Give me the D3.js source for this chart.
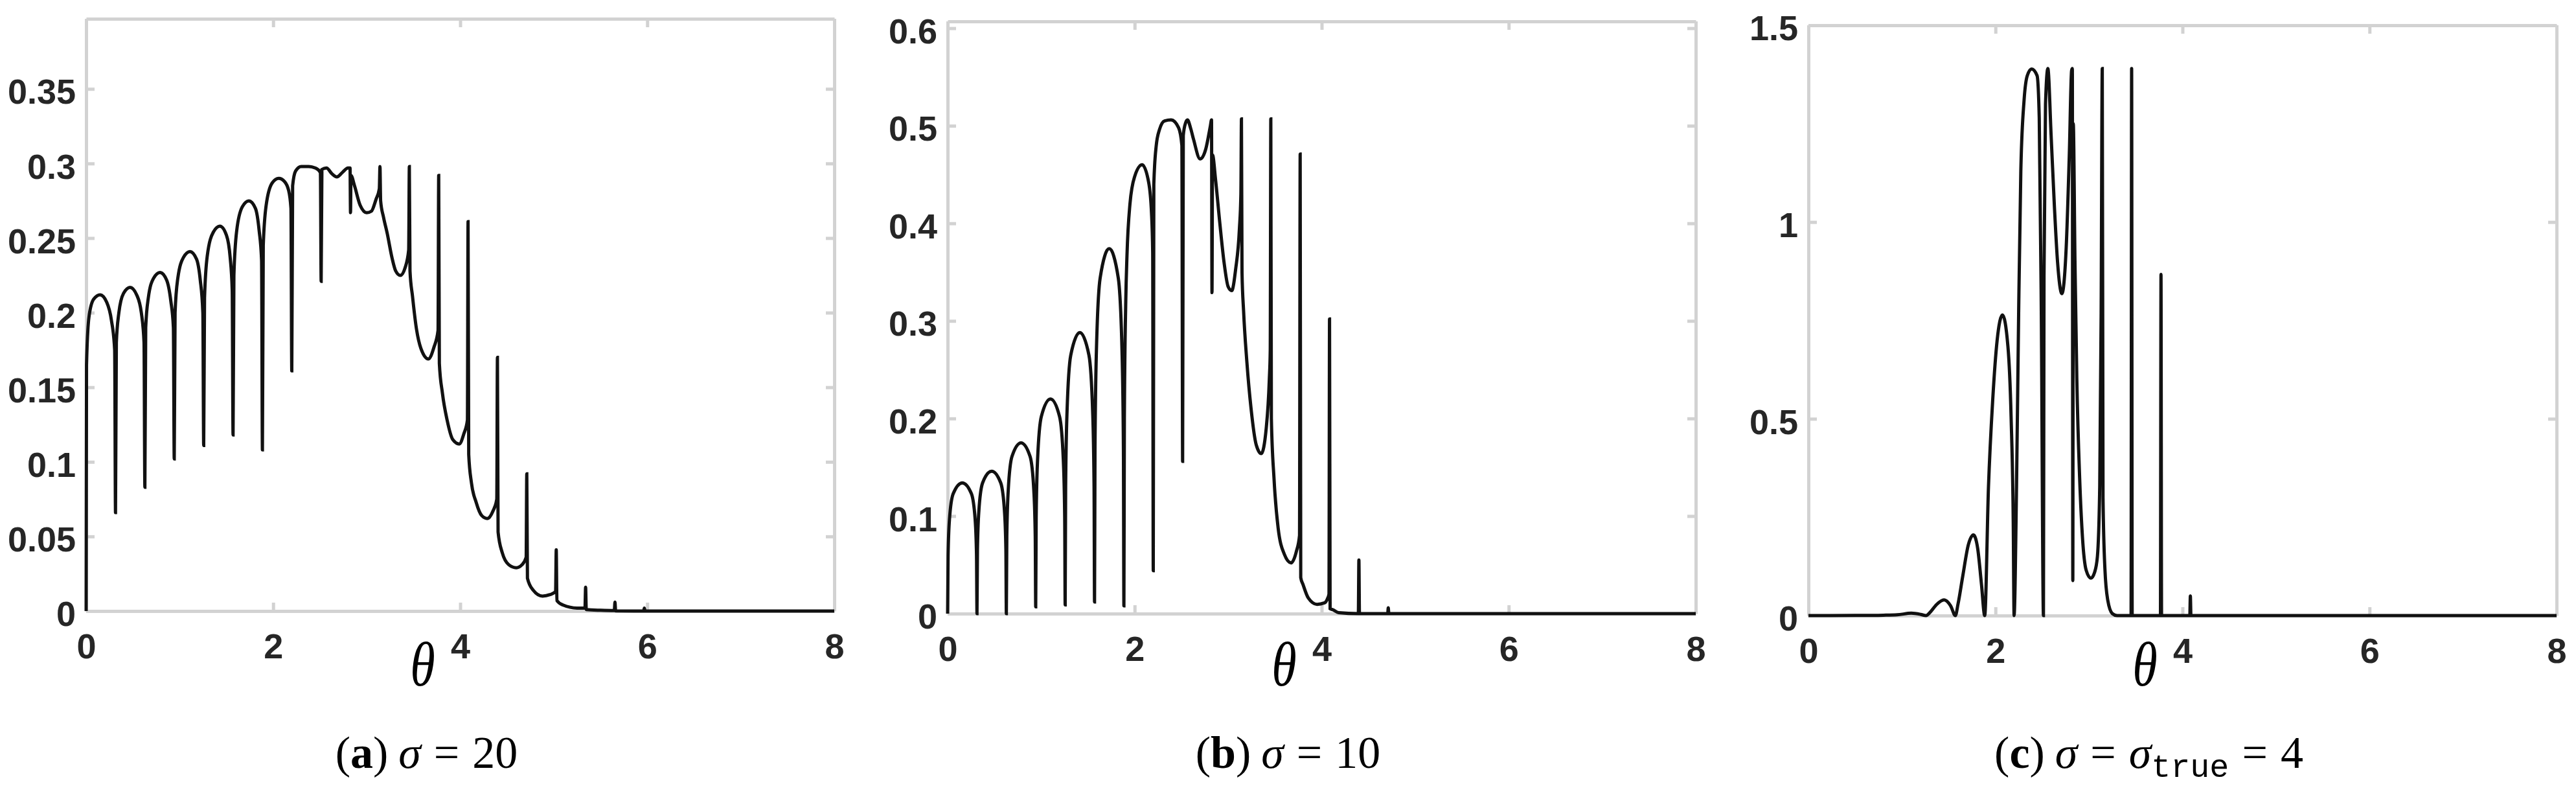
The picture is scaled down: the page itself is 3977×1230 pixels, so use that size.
<!DOCTYPE html>
<html>
<head>
<meta charset="utf-8">
<title>Posterior over theta for three sigma values</title>
<script src="https://cdn.jsdelivr.net/npm/d3@7"></script>
<style>
  body { margin: 0; background: #fff; }
  .tick text { font-family: "Liberation Sans", Arial, sans-serif; font-weight: bold; font-size: 54px; fill: #262626; }
  .cap { font-family: "Liberation Serif", "Times New Roman", serif; fill: #000; }
</style>
</head>
<body>
<svg id="fig" width="3977" height="1230"></svg>
<script>
// x ticks shared by the three panels
var xTicks = [0, 2, 4, 6, 8];

// panel (a) sigma = 20
var yTicksA = [0, 0.05, 0.1, 0.15, 0.2, 0.25, 0.3, 0.35];
var yLabelsA = ['0', '0.05', '0.1', '0.15', '0.2', '0.25', '0.3', '0.35'];
var thetaA = [0, 0.004, 0.03, 0.08, 0.15, 0.22, 0.27, 0.305, 0.314,
  0.323, 0.35, 0.40, 0.47, 0.54, 0.59, 0.619, 0.628,
  0.637, 0.665, 0.72, 0.79, 0.86, 0.905, 0.933, 0.942,
  0.951, 0.98, 1.04, 1.11, 1.18, 1.22, 1.248, 1.257,
  1.266, 1.295, 1.36, 1.43, 1.5, 1.54, 1.562, 1.571,
  1.58, 1.61, 1.67, 1.74, 1.81, 1.85, 1.876, 1.885,
  1.894, 1.925, 1.99, 2.06, 2.12, 2.165, 2.19, 2.199,
  2.208, 2.24, 2.30, 2.38, 2.45, 2.505, 2.513,
  2.521, 2.57, 2.63, 2.68, 2.74, 2.80, 2.822, 2.827,
  2.832, 2.87, 2.93, 3.0, 3.05, 3.10, 3.135, 3.142,
  3.149, 3.18, 3.22, 3.27, 3.31, 3.36, 3.41, 3.449, 3.456,
  3.463, 3.49, 3.53, 3.58, 3.66, 3.72, 3.763, 3.770,
  3.777, 3.81, 3.86, 3.92, 3.99, 4.04, 4.077, 4.084,
  4.091, 4.12, 4.17, 4.23, 4.29, 4.35, 4.391, 4.398,
  4.405, 4.45, 4.52, 4.60, 4.66, 4.705, 4.712,
  4.719, 4.78, 4.88, 4.96, 5.02, 5.027,
  5.034, 5.1, 5.25, 5.334, 5.341,
  5.348, 5.5, 5.648, 5.655, 5.662, 5.962, 5.969, 5.976, 8];
var postA = [0, 0.165, 0.197, 0.209, 0.212, 0.207, 0.195, 0.175, 0.066,
  0.18, 0.2, 0.213, 0.217, 0.212, 0.2, 0.18, 0.083,
  0.19, 0.21, 0.223, 0.227, 0.222, 0.208, 0.19, 0.102,
  0.20, 0.223, 0.237, 0.241, 0.236, 0.222, 0.2, 0.111,
  0.21, 0.238, 0.254, 0.258, 0.252, 0.237, 0.215, 0.118,
  0.225, 0.255, 0.271, 0.275, 0.27, 0.255, 0.235, 0.108,
  0.245, 0.272, 0.287, 0.290, 0.288, 0.282, 0.27, 0.161,
  0.285, 0.295, 0.298, 0.298, 0.297, 0.294, 0.221,
  0.296, 0.297, 0.293, 0.291, 0.294, 0.297, 0.297, 0.267,
  0.292, 0.285, 0.272, 0.267, 0.268, 0.276, 0.283, 0.298,
  0.275, 0.264, 0.253, 0.237, 0.228, 0.225, 0.23, 0.242, 0.298,
  0.228, 0.211, 0.19, 0.176, 0.169, 0.177, 0.188, 0.292,
  0.166, 0.146, 0.128, 0.115, 0.112, 0.119, 0.128, 0.261,
  0.105, 0.086, 0.073, 0.064, 0.062, 0.067, 0.075, 0.170,
  0.053, 0.039, 0.031, 0.029, 0.031, 0.036, 0.092,
  0.022, 0.014, 0.010, 0.011, 0.013, 0.041,
  0.007, 0.004, 0.002, 0.002, 0.016,
  0.001, 0.0005, 0.0003, 0.006, 0.0001, 0, 0.002, 0, 0];

// panel (b) sigma = 10
var yTicksB = [0, 0.1, 0.2, 0.3, 0.4, 0.5, 0.6];
var yLabelsB = ['0', '0.1', '0.2', '0.3', '0.4', '0.5', '0.6'];
var thetaB = [0, 0.005, 0.02, 0.06, 0.157, 0.254, 0.294, 0.309, 0.314,
  0.319, 0.334, 0.374, 0.471, 0.568, 0.608, 0.623, 0.628,
  0.633, 0.648, 0.688, 0.785, 0.882, 0.922, 0.937, 0.942,
  0.947, 0.962, 1.002, 1.1, 1.197, 1.237, 1.252, 1.257,
  1.262, 1.277, 1.317, 1.414, 1.511, 1.551, 1.566, 1.571,
  1.576, 1.591, 1.631, 1.728, 1.825, 1.865, 1.88, 1.885,
  1.89, 1.905, 1.918, 1.95, 2.0, 2.08, 2.15, 2.18, 2.193, 2.199,
  2.205, 2.23, 2.265, 2.32, 2.39, 2.47, 2.505, 2.513,
  2.52, 2.545, 2.565, 2.6, 2.63, 2.70, 2.76, 2.81, 2.822, 2.827,
  2.833, 2.865, 2.91, 2.956, 3.0, 3.038, 3.08, 3.12, 3.136, 3.142,
  3.148, 3.165, 3.2, 3.245, 3.3, 3.354, 3.407, 3.44, 3.45, 3.456,
  3.462, 3.49, 3.534, 3.6, 3.673, 3.73, 3.763, 3.770,
  3.776, 3.8, 3.857, 3.95, 4.03, 4.065, 4.078, 4.084,
  4.09, 4.12, 4.18, 4.392, 4.398, 4.404, 4.706, 4.712, 4.718, 8];
var postB = [0, 0.06, 0.097, 0.123, 0.134, 0.123, 0.097, 0.06, 0,
  0.066, 0.105, 0.134, 0.146, 0.134, 0.105, 0.066, 0,
  0.079, 0.126, 0.161, 0.175, 0.161, 0.126, 0.079, 0.007,
  0.099, 0.158, 0.202, 0.220, 0.202, 0.158, 0.099, 0.009,
  0.13, 0.207, 0.265, 0.288, 0.265, 0.207, 0.13, 0.012,
  0.168, 0.269, 0.344, 0.374, 0.344, 0.269, 0.168, 0.008,
  0.2, 0.32, 0.367, 0.42, 0.448, 0.460, 0.442, 0.411, 0.37, 0.044,
  0.44, 0.479, 0.496, 0.505, 0.506, 0.498, 0.48, 0.156,
  0.49, 0.503, 0.506, 0.497, 0.486, 0.466, 0.476, 0.5, 0.506, 0.329,
  0.47, 0.445, 0.401, 0.36, 0.335, 0.331, 0.353, 0.394, 0.43, 0.507,
  0.35, 0.31, 0.258, 0.21, 0.173, 0.164, 0.19, 0.24, 0.27, 0.507,
  0.2, 0.139, 0.088, 0.061, 0.052, 0.064, 0.08, 0.471,
  0.037, 0.03, 0.016, 0.0095, 0.011, 0.016, 0.02, 0.302,
  0.005, 0.004, 0.001, 0, 0.055, 0, 0, 0.006, 0, 0];

// panel (c) sigma = sigma_true = 4
var yTicksC = [0, 0.5, 1, 1.5];
var yLabelsC = ['0', '0.5', '1', '1.5'];
var thetaC = [0, 0.5, 0.8, 0.95, 1.1, 1.2, 1.257, 1.3, 1.37, 1.45, 1.52, 1.571,
  1.6, 1.65, 1.71, 1.764, 1.81, 1.85, 1.885,
  1.925, 1.971, 2.018, 2.075, 2.133, 2.167, 2.19, 2.199,
  2.225, 2.248, 2.271, 2.306, 2.34, 2.387, 2.445, 2.468, 2.49, 2.513,
  2.519, 2.535, 2.56, 2.595, 2.63, 2.664, 2.71, 2.756, 2.79, 2.814, 2.822, 2.827,
  2.832, 2.85, 2.87, 2.9, 2.93, 2.97, 3.02, 3.06, 3.09, 3.115, 3.13, 3.142,
  3.15, 3.17, 3.2, 3.25, 3.3, 3.45, 3.456, 3.462, 3.764, 3.770, 3.776, 4.078, 4.084, 4.09, 8];
var postC = [0, 0.0003, 0.001, 0.002, 0.006, 0.003, 0, 0.008, 0.028, 0.04, 0.025, 0,
  0.03, 0.1, 0.18, 0.205, 0.17, 0.08, 0,
  0.326, 0.55, 0.70, 0.764, 0.684, 0.505, 0.237, 0,
  0.326, 0.773, 1.13, 1.31, 1.372, 1.389, 1.372, 1.265, 0.773, 0,
  0.863, 1.3, 1.39, 1.22, 1.04, 0.898, 0.818, 0.934, 1.175, 1.385, 1.39, 0.089,
  1.25, 0.9, 0.6, 0.35, 0.2, 0.115, 0.095, 0.11, 0.15, 0.33, 0.77, 1.39,
  0.3, 0.12, 0.04, 0.005, 0, 0, 1.39, 0, 0, 0.867, 0, 0, 0.05, 0, 0];

var panels = [
  { theta: thetaA, post: postA, ticks: yTicksA, labels: yLabelsA, yMax: 0.397,
    left: 133, top: 29, bottom: 943, letter: 'a' },
  { theta: thetaB, post: postB, ticks: yTicksB, labels: yLabelsB, yMax: 0.607,
    left: 1463, top: 33, bottom: 947, letter: 'b' },
  { theta: thetaC, post: postC, ticks: yTicksC, labels: yLabelsC, yMax: 1.5,
    left: 2792, top: 39, bottom: 950, letter: 'c' }
];
var plotW = 1155;
var boxColor = '#d2d2d2';

var svg = d3.select('#fig');
svg.append('rect').attr('width', 3977).attr('height', 1230).attr('fill', '#fff');

panels.forEach(function(p) {
  var h = p.bottom - p.top;
  var x = d3.scaleLinear().domain([0, 8]).range([0, plotW]);
  var y = d3.scaleLinear().domain([0, p.yMax]).range([h, 0]);

  var g = svg.append('g').attr('transform', 'translate(' + p.left + ',' + p.top + ')');

  // box + inward ticks on all four sides
  var axes = [
    { ax: d3.axisBottom(x).tickValues(xTicks).tickFormat(d3.format('d')), t: [0, h], lab: true },
    { ax: d3.axisTop(x).tickValues(xTicks).tickFormat(''), t: [0, 0], lab: false },
    { ax: d3.axisLeft(y).tickValues(p.ticks).tickFormat(function(d, i) { return p.labels[i]; }), t: [0, 0], lab: true },
    { ax: d3.axisRight(y).tickValues(p.ticks).tickFormat(''), t: [plotW, 0], lab: false }
  ];
  axes.forEach(function(a) {
    var ag = g.append('g')
      .attr('transform', 'translate(' + a.t[0] + ',' + a.t[1] + ')')
      .call(a.ax.tickSizeInner(-13).tickSizeOuter(0).tickPadding(29));
    ag.select('.domain').attr('stroke', boxColor).attr('stroke-width', 5);
    ag.selectAll('.tick line').attr('stroke', boxColor).attr('stroke-width', 5);
  });
  // tick label placement
  g.selectAll('.tick text').attr('font-size', null).attr('font-family', null);

  var line = d3.line()
    .x(function(d) { return x(d[0]); })
    .y(function(d) { return y(d[1]); })
    .curve(d3.curveMonotoneX);

  g.append('path')
    .datum(d3.zip(p.theta, p.post))
    .attr('d', line)
    .attr('fill', 'none')
    .attr('stroke', '#111')
    .attr('stroke-width', 5)
    .attr('stroke-linejoin', 'miter');

  // x label
  g.append('text')
    .attr('class', 'cap')
    .attr('transform', 'translate(' + (plotW / 2 - 58) + ',' + (1058 - p.top) + ') scale(0.8,1)')
    .attr('text-anchor', 'middle')
    .attr('font-style', 'italic')
    .attr('font-size', 98)
    .text('θ');

  // caption
  var cap = svg.append('text')
    .attr('class', 'cap')
    .attr('x', p.left + plotW / 2 - 52)
    .attr('y', 1185)
    .attr('text-anchor', 'middle')
    .attr('font-size', 70);
  cap.append('tspan').text('(');
  cap.append('tspan').attr('font-weight', 'bold').text(p.letter);
  cap.append('tspan').text(')');
  cap.append('tspan').attr('dx', 16).attr('font-style', 'italic').text('σ');
  cap.append('tspan').attr('dx', 20).text('=');
  if (p.letter === 'a') {
    cap.append('tspan').attr('dx', 20).text('20');
  } else if (p.letter === 'b') {
    cap.append('tspan').attr('dx', 20).text('10');
  } else {
    cap.append('tspan').attr('dx', 20).attr('font-style', 'italic').text('σ');
    cap.append('tspan').attr('dy', 14).attr('font-family', '"Liberation Mono", monospace').attr('font-size', 50).text('true');
    cap.append('tspan').attr('dy', -14).attr('dx', 20).text('=');
    cap.append('tspan').attr('dx', 20).text('4');
  }
});

// y tick labels sit just left of the axis, x tick labels below
svg.selectAll('.tick text').each(function() {
  var t = d3.select(this);
  if (t.attr('x') !== null && +t.attr('x') < 0) {
    t.attr('x', -16).attr('dy', '0.42em');
  } else if (t.attr('y') !== null && +t.attr('y') > 0) {
    t.attr('y', 35).attr('dy', '0.71em');
  }
});
</script>
</body>
</html>
